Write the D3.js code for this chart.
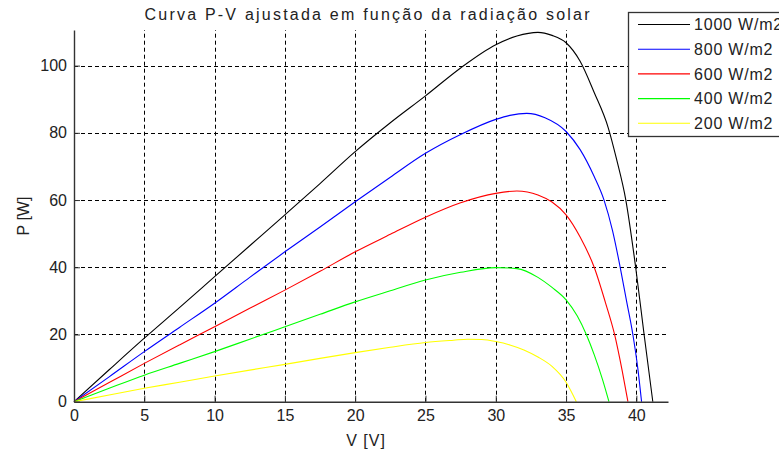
<!DOCTYPE html>
<html>
<head>
<meta charset="utf-8">
<script src="https://cdn.jsdelivr.net/npm/d3@7"></script>
<style>
  body { margin: 0; background: #fff; }
  text { font-family: "Liberation Sans", Arial, sans-serif; fill: #222; }
</style>
</head>
<body>
<svg id="chart" width="779" height="454"></svg>
<script>
// irradiance levels (legend order)
const seriesLabels = ["1000 W/m2", "800 W/m2", "600 W/m2", "400 W/m2", "200 W/m2"];

// V [V] / P [W]
const v1000 = [0, 2.5, 5, 7.5, 10, 12.5, 15, 17.5, 20, 22.5, 25, 27.5, 30, 31.5, 33, 34, 35, 36, 37, 38, 38.6, 39.25, 39.95, 40.55, 41.17];
const p1000 = [0, 9.5, 18.9, 28, 37.2, 46.4, 55.6, 64.9, 74.4, 83, 91, 99.3, 106.2, 108.8, 109.9, 109.0, 106.8, 101.3, 92, 81.5, 72, 60, 40, 20, 0];

const v800 = [0, 2.5, 5, 7.5, 10, 12.5, 15, 17.5, 20, 22.5, 25, 27.5, 30, 31, 32.2, 33.5, 35, 36, 37, 37.7, 38.3, 38.85, 39.3, 39.75, 40.1, 40.37];
const p800 = [0, 7.4, 14.9, 22.1, 29.3, 37, 44.6, 52, 59.5, 66.8, 73.9, 79.5, 84.0, 85.2, 85.8, 84.5, 80.4, 75, 67, 60, 51, 40, 30, 20, 10, 0];

const v600 = [0, 2.5, 5, 7.5, 10, 12.5, 15, 17.5, 20, 22.5, 25, 27.5, 30, 31.5, 33, 34, 35, 36, 37, 37.8, 38.45, 39, 39.4];
const p600 = [0, 5.7, 11.4, 16.9, 22.3, 27.8, 33.2, 38.8, 44.6, 49.8, 54.9, 59.2, 62.0, 62.7, 61.5, 59.4, 55.6, 49, 40, 29.5, 20, 9, 0];

const v400 = [0, 2.5, 5, 7.5, 10, 12.5, 15, 17.5, 20, 22.5, 25, 27.5, 30, 31.5, 33, 34, 35, 35.8, 36.44, 37, 37.6, 38.05];
const p400 = [0, 4, 7.9, 11.4, 14.9, 18.6, 22.3, 26, 29.7, 33, 36.2, 38.5, 39.9, 39.6, 37, 34, 30.3, 25.5, 20, 14, 6.5, 0];

const v200 = [0, 2.5, 5, 7.5, 10, 12.5, 15, 17.5, 20, 22.5, 25, 27, 28, 29, 30, 31, 32, 33, 34, 35, 35.73];
const p200 = [0, 2.0, 4.0, 5.8, 7.65, 9.4, 11.1, 12.9, 14.6, 16.2, 17.6, 18.3, 18.6, 18.5, 17.9, 16.9, 15.4, 13.3, 10.5, 5.8, 0];

const xTicks = [0, 5, 10, 15, 20, 25, 30, 35, 40];
const yTicks = [0, 20, 40, 60, 80, 100];

const lineColors = ["#000000", "#0000ff", "#ff0000", "#00ff00", "#ffff00"];

const series = [
  [v1000, p1000], [v800, p800], [v600, p600], [v400, p400], [v200, p200]
].map((s, i) => ({
  label: seriesLabels[i],
  color: lineColors[i],
  points: s[0].map((v, j) => ({ v: v, p: s[1][j] }))
}));

const svg = d3.select("#chart");
const plotLeft = 74, plotTop = 30, plotRight = 668, plotBottom = 401.7;

const x = d3.scaleLinear().domain([0, 42.25]).range([plotLeft, plotRight]);
const y = d3.scaleLinear().domain([0, 110.6]).range([plotBottom, plotTop]);

// dashed grid
const grid = svg.append("g")
  .attr("stroke", "#000")
  .attr("stroke-width", 1)
  .attr("stroke-dasharray", "4,3");

grid.selectAll("line.gx")
  .data(xTicks.filter(d => d > 0))
  .enter().append("line")
  .attr("x1", d => Math.round(x(d)) + 0.5)
  .attr("x2", d => Math.round(x(d)) + 0.5)
  .attr("y1", plotBottom)
  .attr("y2", plotTop);

grid.selectAll("line.gy")
  .data(yTicks.filter(d => d > 0))
  .enter().append("line")
  .attr("x1", plotLeft)
  .attr("x2", plotRight)
  .attr("y1", d => Math.round(y(d)) + 0.5)
  .attr("y2", d => Math.round(y(d)) + 0.5);

// curves
const line = d3.line()
  .x(d => x(d.v))
  .y(d => y(d.p))
  .curve(d3.curveMonotoneX);

svg.append("g")
  .selectAll("path")
  .data(series)
  .enter().append("path")
  .attr("d", d => line(d.points))
  .attr("fill", "none")
  .attr("stroke", d => d.color)
  .attr("stroke-width", 1.1);

// axes (box off, ticks inward)
const xAxis = svg.append("g")
  .attr("transform", `translate(0,${plotBottom})`)
  .call(d3.axisBottom(x).tickValues(xTicks).tickSizeInner(-6).tickSizeOuter(0).tickPadding(8));

const yAxis = svg.append("g")
  .attr("transform", `translate(${plotLeft},0)`)
  .call(d3.axisLeft(y).tickValues(yTicks).tickSizeInner(-6).tickSizeOuter(0).tickPadding(7));

[xAxis, yAxis].forEach(a => {
  a.select(".domain").attr("stroke", "#333").attr("stroke-width", 1.4);
  a.selectAll(".tick line").attr("stroke", "#333");
  a.selectAll(".tick text")
    .style("font-size", "16px")
    .style("font-family", "'Liberation Sans', Arial, sans-serif")
    .attr("fill", "#222");
});

// labels
svg.append("text")
  .attr("x", 367)
  .attr("y", 20)
  .attr("text-anchor", "middle")
  .attr("textLength", 445)
  .attr("lengthAdjust", "spacing")
  .style("font-size", "16px")
  .text("Curva P-V ajustada em função da radiação solar");

svg.append("text")
  .attr("x", 366)
  .attr("y", 446)
  .attr("text-anchor", "middle")
  .style("font-size", "16px")
  .style("letter-spacing", "1px")
  .text("V [V]");

svg.append("text")
  .attr("transform", "translate(29,216) rotate(-90)")
  .attr("text-anchor", "middle")
  .style("font-size", "16px")
  .text("P [W]");

// legend
const legend = svg.append("g");
legend.append("rect")
  .attr("x", 628.5)
  .attr("y", 12.5)
  .attr("width", 200)
  .attr("height", 124)
  .attr("fill", "#fff")
  .attr("stroke", "#333")
  .attr("stroke-width", 1.3);

const item = legend.selectAll("g.item")
  .data(series)
  .enter().append("g")
  .attr("transform", (d, i) => `translate(0,${24.5 + i * 24.7})`);

item.append("line")
  .attr("x1", 638)
  .attr("x2", 690)
  .attr("stroke", d => d.color)
  .attr("stroke-width", 1.1);

item.append("text")
  .attr("x", 694)
  .attr("dy", "0.36em")
  .style("font-size", "16px")
  .style("letter-spacing", "0.8px")
  .text(d => d.label);
</script>
</body>
</html>
